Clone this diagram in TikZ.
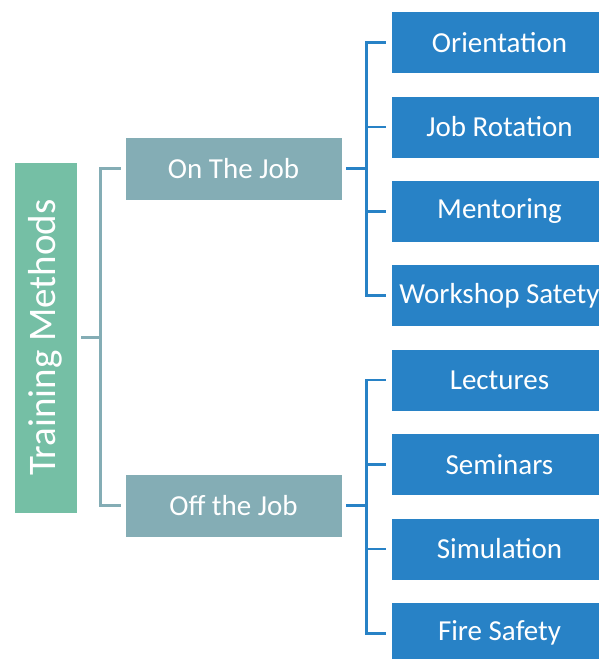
\documentclass[tikz,border=0pt]{standalone}
\usepackage{fontspec}
\setmainfont{Carlito}
\definecolor{mgreen}{RGB}{117,191,165}
\definecolor{mteal}{RGB}{132,173,181}
\definecolor{mblue}{RGB}{40,130,198}
\tikzset{
    rootbox/.style={rectangle, fill=mgreen, draw=white, line width=0.6pt, text=white,
        minimum width=63pt, minimum height=351pt, inner sep=0pt},
    midbox/.style={rectangle, fill=mteal, draw=white, line width=0.6pt, text=white,
        minimum width=217pt, minimum height=63pt, inner sep=0pt,
        font=\fontsize{29}{35}\selectfont},
    leafbox/.style={rectangle, fill=mblue, draw=white, line width=0.6pt, text=white,
        minimum width=217pt, minimum height=62pt, inner sep=0pt,
        font=\fontsize{29}{35}\selectfont},
    midline/.style={draw=mteal, line width=2.5pt},
    leafline/.style={draw=mblue, line width=2.5pt}
}

\begin{document}
\begin{tikzpicture}[x=1pt, y=-1pt]
    \useasboundingbox (0, 0) rectangle (598, 659);

    \node[rootbox] (root) at (45.5, 337.5) {\rotatebox{90}{\fontsize{39}{47}\selectfont Training Methods}};

    \node[midbox] (on)  at (233.5, 168.5) {On The Job};
    \node[midbox] (off) at (233.5, 505.5) {Off the Job};

    \node[leafbox] (orient)   at (499.5, 42.5)  {Orientation};
    \node[leafbox] (rotation) at (499.5, 126.9) {Job Rotation};
    \node[leafbox] (mentor)   at (499.5, 211.3) {Mentoring};
    \node[leafbox] (workshop) at (499.5, 295.7) {Workshop Satety};
    \node[leafbox] (lecture)  at (499.5, 380.1) {Lectures};
    \node[leafbox] (seminar)  at (499.5, 464.5) {Seminars};
    \node[leafbox] (simul)    at (499.5, 548.9) {Simulation};
    \node[leafbox] (fire)     at (499.5, 633.3) {Fire Safety};

    \draw[midline] ([xshift=4pt]root.east) -- ([xshift=-24pt]on.west |- root.east) |- ([xshift=-4pt]on.west);
    \draw[midline] ([xshift=4pt]root.east) -- ([xshift=-24pt]off.west |- root.east) |- ([xshift=-4pt]off.west);

    \draw[leafline] ([xshift=4pt]on.east) -- ([xshift=-24pt]orient.west |- on.east) |- ([xshift=-5pt]orient.west);
    \draw[leafline] ([xshift=4pt]on.east) -- ([xshift=-24pt]rotation.west |- on.east) |- ([xshift=-5pt]rotation.west);
    \draw[leafline] ([xshift=4pt]on.east) -- ([xshift=-24pt]mentor.west |- on.east) |- ([xshift=-5pt]mentor.west);
    \draw[leafline] ([xshift=4pt]on.east) -- ([xshift=-24pt]workshop.west |- on.east) |- ([xshift=-5pt]workshop.west);

    \draw[leafline] ([xshift=4pt]off.east) -- ([xshift=-24pt]lecture.west |- off.east) |- ([xshift=-5pt]lecture.west);
    \draw[leafline] ([xshift=4pt]off.east) -- ([xshift=-24pt]seminar.west |- off.east) |- ([xshift=-5pt]seminar.west);
    \draw[leafline] ([xshift=4pt]off.east) -- ([xshift=-24pt]simul.west |- off.east) |- ([xshift=-5pt]simul.west);
    \draw[leafline] ([xshift=4pt]off.east) -- ([xshift=-24pt]fire.west |- off.east) |- ([xshift=-5pt]fire.west);
\end{tikzpicture}
\end{document}
